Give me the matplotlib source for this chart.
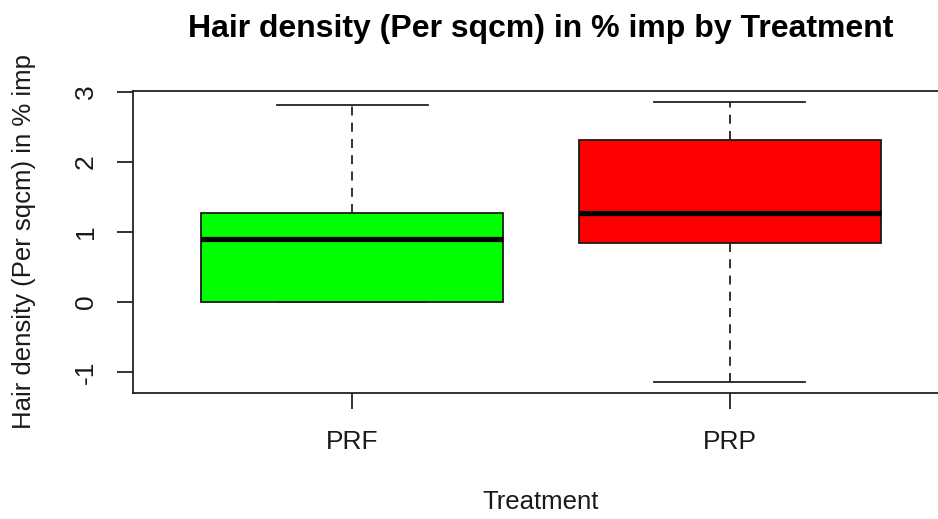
import matplotlib
matplotlib.use("Agg")
import matplotlib.pyplot as plt

plt.rcParams['font.family'] = ['Liberation Sans', 'DejaVu Sans']

# Box summaries per treatment group
treatments = ["PRF", "PRP"]
whisker_low = [0.0, -1.14]
q1 = [0.0, 0.84]
median = [0.90, 1.27]
q3 = [1.27, 2.31]
whisker_high = [2.81, 2.86]
box_colors = ["#00FF00", "#FF0000"]

W, H = 938, 519
fig = plt.figure(figsize=(W / 100, H / 100), dpi=100)
left, right, top, bottom = 133, 949, 90.6, 393
ax = fig.add_axes([left / W, (H - bottom) / H, (right - left) / W, (bottom - top) / H])

stats = []
for i, name in enumerate(treatments):
    stats.append(dict(label=name, med=median[i], q1=q1[i], q3=q3[i],
                      whislo=whisker_low[i], whishi=whisker_high[i], fliers=[]))

positions = list(range(1, len(treatments) + 1))
bp = ax.bxp(stats, positions=positions, widths=0.8, capwidths=0.4,
            patch_artist=True, showfliers=False,
            boxprops=dict(edgecolor="#1a1a1a", linewidth=1.3),
            medianprops=dict(color="black", linewidth=3.8, solid_capstyle="butt"),
            whiskerprops=dict(color="#222222", linewidth=1.3, linestyle=(0, (5, 4))),
            capprops=dict(color="#222222", linewidth=1.3))
for patch, c in zip(bp["boxes"], box_colors):
    patch.set_facecolor(c)

ymin = min(whisker_low)
ymax = max(whisker_high)
pad = (ymax - ymin) * 0.04
ax.set_ylim(ymin - pad, ymax + pad)
xpad = (len(treatments)) * 0.04
ax.set_xlim(0.5 - xpad, len(treatments) + 0.5 + xpad)

ax.set_yticks([-1, 0, 1, 2, 3])
ax.set_yticklabels(["-1", "0", "1", "2", "3"], rotation=90, va="center")
ax.set_xticks(positions)
ax.set_xticklabels(treatments)

for s in ax.spines.values():
    s.set_linewidth(1.3)
    s.set_color("#222222")
ax.tick_params(axis="both", length=11.5, width=1.3, color="#222222",
               labelsize=19, labelcolor="#1a1a1a")
ax.tick_params(axis="y", pad=14)
ax.tick_params(axis="x", pad=15)

ax.set_xlabel("Treatment", fontsize=18.5, color="#1a1a1a", labelpad=26)
ax.set_ylabel("Hair density (Per sqcm) in % imp", fontsize=18.5, color="#1a1a1a", labelpad=27)
fig.text((left + right) / 2 / W, 1 - 29 / H, "Hair density (Per sqcm) in % imp by Treatment",
         ha="center", va="center", fontsize=23, fontweight="bold")

fig.savefig("out.png", dpi=100)
